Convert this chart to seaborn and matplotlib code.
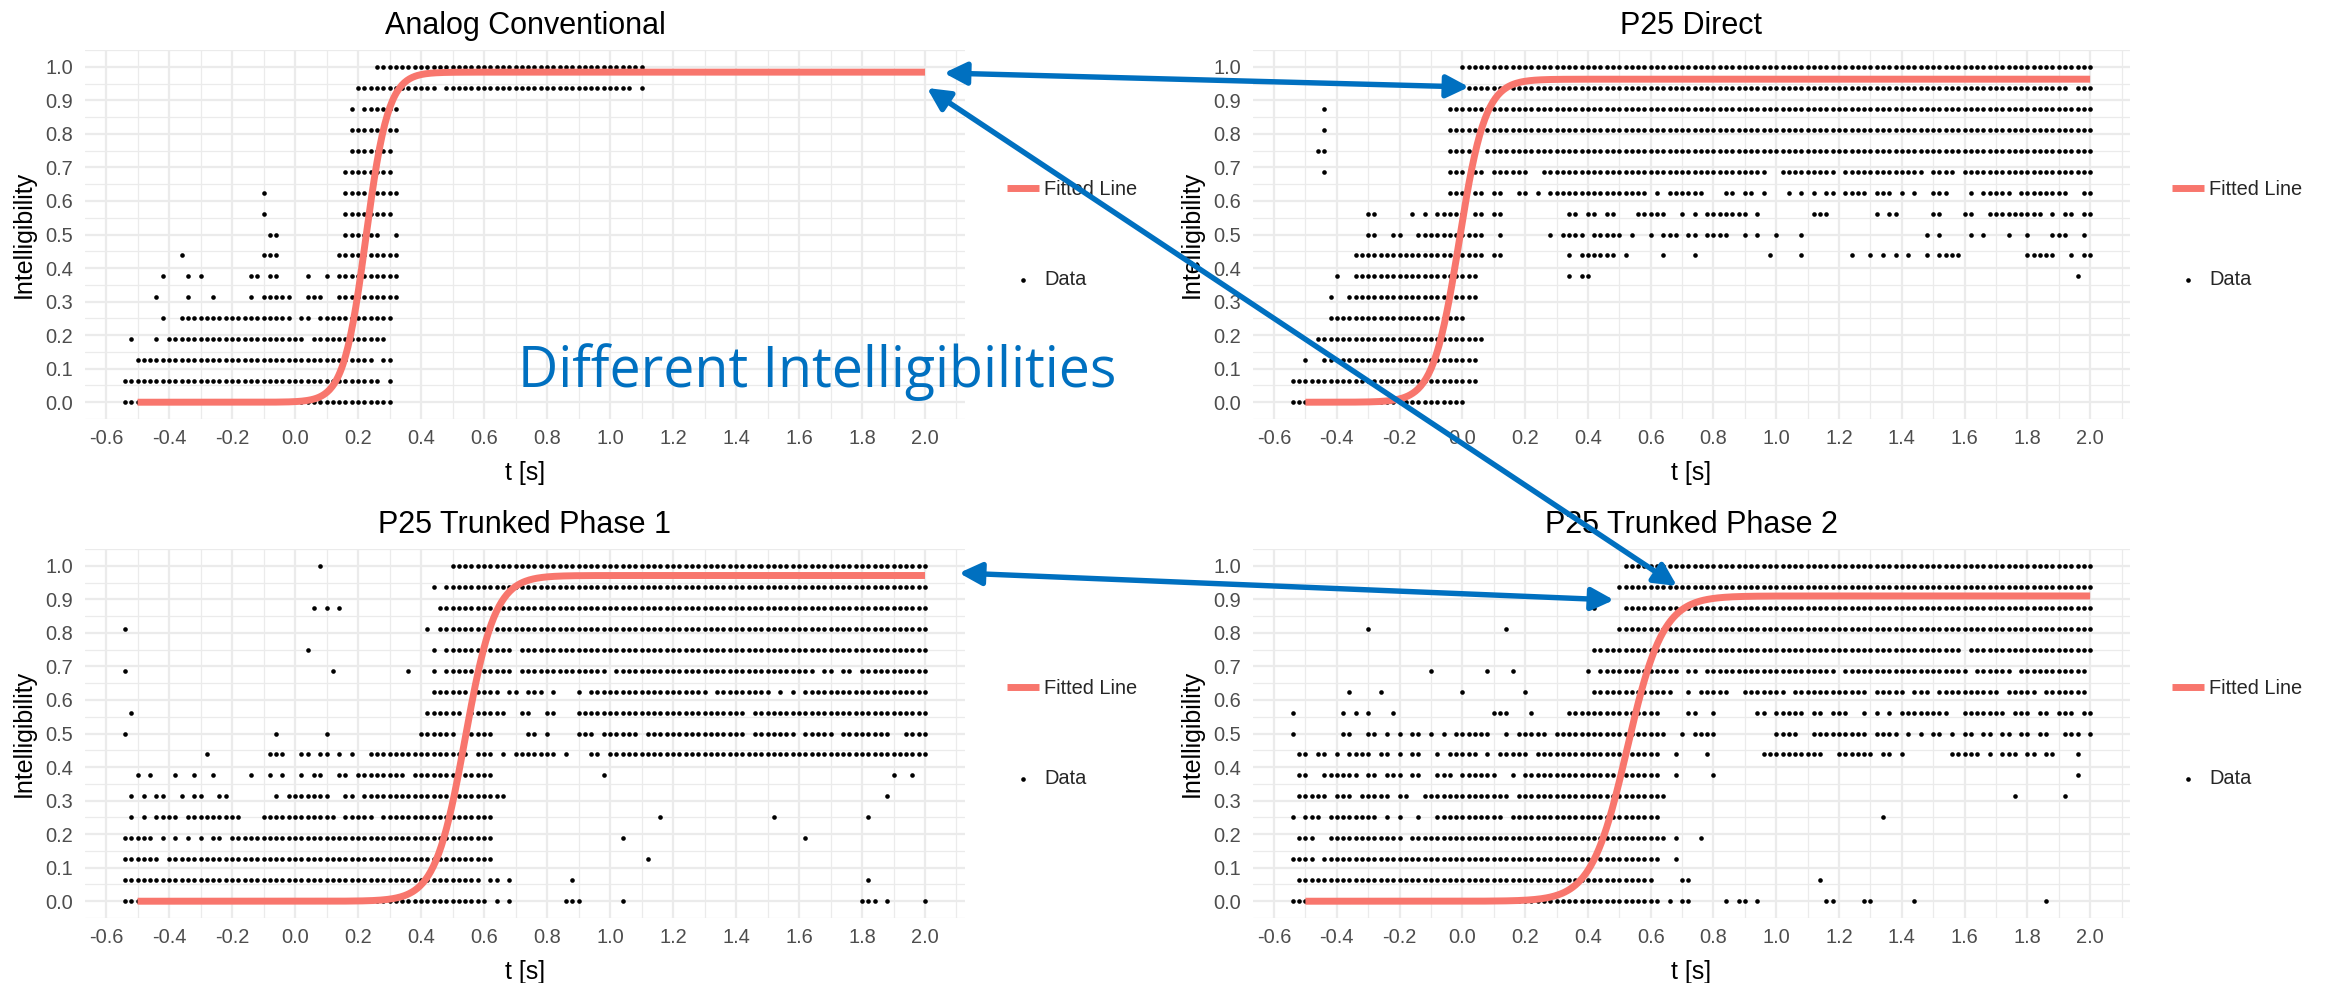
import numpy as np
import pandas as pd
import matplotlib
matplotlib.use("Agg")
import matplotlib.pyplot as plt
from matplotlib.patches import FancyArrowPatch
import seaborn as sns

# ---------------------------------------------------------------------------
# Data
# ---------------------------------------------------------------------------
# Listening-test scores are k/16 (16 words per trial)
INTELLIGIBILITY_LEVELS = [0.0, 0.0625, 0.125, 0.1875, 0.25, 0.3125, 0.375, 0.4375,
                          0.5, 0.5625, 0.625, 0.6875, 0.75, 0.8125, 0.875, 0.9375, 1.0]
T_STEP = 0.02  # time offsets are sampled every 20 ms

# Observed time offsets per intelligibility level (index 0 -> 0/16 ... 16 -> 16/16).
# "a:b" = every sample from a to b inclusive, "a" = single sample.
ANALOG_RUNS = [
    "-0.54:0.30",
    "-0.54:0.26 0.30",
    "-0.50:0.24 0.28:0.30",
    "-0.52 -0.44 -0.40:0.02 0.06:0.28",
    "-0.42 -0.36:-0.02 0.02:0.04 0.08:0.30",
    "-0.44 -0.34 -0.26 -0.14 -0.10:-0.02 0.04:0.08 0.14:0.32",
    "-0.42 -0.34 -0.30 -0.14:-0.12 -0.08:-0.06 0.04 0.10 0.14:0.32",
    "-0.36 -0.10:-0.06 0.14:0.32",
    "-0.08:-0.06 0.16:0.26 0.32",
    "-0.10 0.16:0.30",
    "-0.10 0.16:0.32",
    "0.16:0.30",
    "0.18:0.30",
    "0.18:0.32",
    "0.18 0.22:0.32",
    "0.20:0.44 0.48:1.06 1.10",
    "0.26:1.10",
]

DIRECT_RUNS = [
    "-0.54:0.00",
    "-0.54:0.04",
    "-0.50 -0.44 -0.42:0.04",
    "-0.46:0.06",
    "-0.42:0.00",
    "-0.42 -0.36:-0.06 -0.02:0.04",
    "-0.40 -0.34:0.04 0.34 0.38:0.40 1.96",
    "-0.34:0.06 0.10:0.12 0.34 0.38:0.48 0.52 0.64 0.74 0.98 1.08 1.24 1.30 1.34 1.38 "
    "1.42 1.48 1.52:1.58 1.80:1.88 1.94 1.98:2.00",
    "-0.30:-0.28 -0.22 -0.20 -0.14:-0.10 -0.08:0.06 0.12 0.28 0.32:0.38 0.42:0.50 0.54 "
    "0.60 0.64:0.68 0.72:0.74 0.78:0.84 0.90 0.94 1.00 1.08 1.48 1.52 1.62 1.66 1.74 1.80 "
    "1.88:1.92 1.98",
    "-0.30:-0.28 -0.16 -0.12 -0.08:0.00 0.04:0.06 0.10:0.12 0.34 0.36 0.40:0.42 0.46:0.48 "
    "0.56:0.64 0.70 0.74 0.78:0.90 0.94 1.12:1.16 1.32 1.36:1.38 1.50:1.52 1.60:1.62 "
    "1.68:1.84 1.88 1.92:1.94 1.98:2.00",
    "-0.04:0.00 0.04:0.06 0.10:0.12 0.18:0.20 0.24 0.28 0.30:0.58 0.62 0.66:0.76 0.84:0.86 "
    "0.90:0.92 0.96 1.04 1.08 1.12 1.16:1.18 1.22:1.28 1.32:1.36 1.40 1.44 1.50:1.54 1.62 "
    "1.66:1.74 1.78:1.92 1.98:2.00",
    "-0.44 -0.04:0.00 0.04:0.06 0.10:0.20 0.26:0.96 1.02:1.18 1.22:1.46 1.50:1.56 1.60:2.00",
    "-0.46:-0.44 -0.04:0.02 0.08:0.20 0.22:2.00",
    "-0.44 -0.04:2.00",
    "-0.44 -0.04:2.00",
    "0.02:1.92 1.96:2.00",
    "0.00:2.00",
]

PHASE1_RUNS = [
    "-0.54:0.60 0.64 0.68 0.86:0.90 1.04 1.80:1.84 1.88 2.00",
    "-0.54:0.58 0.62:0.64 0.68 0.88 1.82",
    "-0.54:-0.44 -0.40:0.62 1.12",
    "-0.54:-0.46 -0.42 -0.38 -0.34 -0.30 -0.26:-0.24 -0.20:0.62 1.04 1.62",
    "-0.52 -0.48 -0.44:-0.38 -0.34:-0.18 -0.10:0.12 0.16:0.24 0.28:0.62 1.16 1.52 1.82",
    "-0.52 -0.48 -0.44:-0.42 -0.36 -0.32:-0.30 -0.24:-0.22 -0.06 -0.02:0.10 0.16:0.18 "
    "0.22:0.66 1.88",
    "-0.50 -0.46 -0.38 -0.32 -0.26 -0.14 -0.08 -0.04 0.02 0.06:0.08 0.14:0.16 0.20:0.34 "
    "0.38:0.50 0.54:0.62 0.98 1.90 1.96",
    "-0.28 -0.08:-0.04 0.02:0.04 0.08:0.10 0.14 0.18 0.24:0.54 0.58:0.62 0.66 0.70:0.82 "
    "0.86 0.94:0.96 1.00:2.00",
    "-0.54 -0.06 0.10 0.40:0.50 0.54:0.62 0.74:0.76 0.80 0.90:0.94 0.98:1.08 1.12:1.42 "
    "1.46:1.58 1.62:1.70 1.74:1.88 1.94:2.00",
    "-0.52 0.42:0.52 0.56:0.66 0.72:0.74 0.80:0.82 0.90:1.42 1.46:2.00",
    "0.44:0.54 0.58:0.64 0.68:0.70 0.74:0.78 0.82 0.90 0.94:1.30 1.34:1.50 1.54 1.58 1.62:2.00",
    "-0.54 0.12 0.36 0.44 0.48:0.68 0.72:0.98 1.02:1.64 1.68:1.70 1.74:1.76 1.80:2.00",
    "0.04 0.44 0.48:0.68 0.72:2.00",
    "-0.54 0.42 0.46:2.00",
    "0.06 0.10 0.14 0.46:2.00",
    "0.44 0.48:2.00",
    "0.08 0.50:2.00",
]

PHASE2_RUNS = [
    "-0.54:0.62 0.66 0.70:0.72 0.84 0.88:0.90 0.94 1.16:1.18 1.28:1.30 1.44 1.86",
    "-0.52:0.60 0.70:0.72 1.14",
    "-0.54:-0.48 -0.44:0.62 0.68",
    "-0.52:-0.48 -0.42:-0.20 -0.16:0.64 0.68 0.76",
    "-0.54 -0.50:-0.46 -0.42:-0.28 -0.24 -0.20 -0.14 -0.08:0.12 0.16:0.62 1.34",
    "-0.52:-0.44 -0.40:-0.36 -0.32:-0.24 -0.20:-0.18 -0.12:0.14 0.18:0.64 1.76 1.92",
    "-0.52:-0.50 -0.44:-0.34 -0.30:-0.28 -0.24:-0.20 -0.16:-0.14 -0.08:-0.04 0.00:0.10 "
    "0.16 0.20:0.48 0.52:0.62 0.68 0.80 1.96",
    "-0.52:-0.50 -0.46:-0.44 -0.40 -0.36:-0.30 -0.26:-0.24 -0.20 -0.16:-0.14 -0.08 "
    "-0.04:0.04 0.08 0.12:0.20 0.24:0.62 0.68 0.78 0.96:1.14 1.20:1.30 1.34:1.36 1.40 "
    "1.56:1.64 1.68 1.72:1.76 1.80:1.82 1.86:1.88 1.96",
    "-0.54 -0.38:-0.36 -0.30:-0.28 -0.24 -0.20 -0.16:-0.14 -0.10 -0.06 -0.02:0.08 0.14 "
    "0.18:0.26 0.30:0.64 0.70 0.74:0.80 1.00:1.06 1.12:1.28 1.32:1.38 1.42 1.46 1.50:1.52 "
    "1.56 1.60:1.62 1.66:1.68 1.72:1.74 1.78:1.80 1.84:1.86 1.92:1.96 2.00",
    "-0.54 -0.38 -0.34 -0.30 -0.22 0.10:0.14 0.22 0.34:0.62 0.72:0.74 0.80 0.94:0.96 "
    "1.00:1.08 1.12:1.14 1.18:1.22 1.28 1.32 1.36 1.40:1.54 1.60:1.72 1.76:1.80 1.84:1.86 "
    "1.90:1.94 1.98:2.00",
    "-0.36 -0.26 0.00 0.20 0.42:0.66 0.72 0.76:0.84 0.90:1.02 1.06:1.28 1.32:1.40 "
    "1.44:1.48 1.52:1.70 1.74:1.82 1.86:1.98",
    "-0.10 0.08 0.16 0.40 0.44:0.68 0.72:0.74 0.78:1.18 1.22:1.60 1.64:1.74 1.78:1.98",
    "0.42:1.58 1.62:2.00",
    "-0.30 0.14 0.50:2.00",
    "0.42 0.52:2.00",
    "0.50:2.00",
    "0.52:2.00",
]

PANEL_TITLES = ["Analog Conventional", "P25 Direct",
                "P25 Trunked Phase 1", "P25 Trunked Phase 2"]
PANEL_RUNS = [ANALOG_RUNS, DIRECT_RUNS, PHASE1_RUNS, PHASE2_RUNS]

# Logistic fit per technology: upper asymptote, midpoint [s], growth rate [1/s]
FIT_UPPER = [0.984, 0.963, 0.971, 0.910]
FIT_MIDPOINT = [0.225, -0.010, 0.540, 0.525]
FIT_RATE = [28.0, 24.0, 21.0, 17.5]
FIT_T_RANGE = (-0.5, 2.0)

X_TICKS = [-0.6, -0.4, -0.2, 0.0, 0.2, 0.4, 0.6, 0.8, 1.0, 1.2, 1.4, 1.6, 1.8, 2.0]
Y_TICKS = [0.0, 0.1, 0.2, 0.3, 0.4, 0.5, 0.6, 0.7, 0.8, 0.9, 1.0]

ANNOTATION = "Different Intelligibilities"


def expand_runs(runs):
    """Turn the per-level run strings into a long table of (t, intelligibility)."""
    t_vals, y_vals = [], []
    for level, spec in zip(INTELLIGIBILITY_LEVELS, runs):
        for tok in spec.split():
            if ":" in tok:
                a, b = (float(v) for v in tok.split(":"))
            else:
                a = b = float(tok)
            n = int(round((b - a) / T_STEP)) + 1
            for i in range(n):
                t_vals.append(round(a + i * T_STEP, 2))
                y_vals.append(level)
    return pd.DataFrame({"t": t_vals, "Intelligibility": y_vals})


def fitted_curve(upper, mid, rate):
    t = np.linspace(FIT_T_RANGE[0], FIT_T_RANGE[1], 600)
    return pd.DataFrame({"t": t, "fit": upper / (1.0 + np.exp(-rate * (t - mid)))})


# ---------------------------------------------------------------------------
# Figure
# ---------------------------------------------------------------------------
sns.set_style("white")
plt.rcParams["font.family"] = ["Liberation Sans", "DejaVu Sans"]
plt.rcParams["axes.unicode_minus"] = False

W, H = 2326, 983
fig = plt.figure(figsize=(W / 100, H / 100), dpi=100)
fig.patch.set_facecolor("white")

FIT_COLOR = "#F8766D"
GRID_COLOR = "#EBEBEB"
TICK_COLOR = "#4D4D4D"
NOTE_COLOR = "#0070C0"

TICK_FS = 14.4
AXIS_FS = 18
TITLE_FS = 22

# panel rectangles in pixels: (left, top, right, bottom)
PANEL_BOXES = [(85, 50, 965, 419), (1253, 50, 2130, 419),
               (85, 549, 965, 918), (1253, 549, 2130, 918)]

axes = []
for idx, (title, runs) in enumerate(zip(PANEL_TITLES, PANEL_RUNS)):
    l, t, r, b = PANEL_BOXES[idx]
    ax = fig.add_axes([l / W, 1 - b / H, (r - l) / W, (b - t) / H])
    axes.append(ax)
    ax.set_facecolor("white")
    for sp in ax.spines.values():
        sp.set_visible(False)

    pts = expand_runs(runs)
    fit = fitted_curve(FIT_UPPER[idx], FIT_MIDPOINT[idx], FIT_RATE[idx])

    sns.scatterplot(data=pts, x="t", y="Intelligibility", ax=ax, color="black",
                    s=11, linewidth=0, label="Data", zorder=2)
    sns.lineplot(data=fit, x="t", y="fit", ax=ax, color=FIT_COLOR, linewidth=5.0,
                 estimator=None, label="Fitted Line", zorder=3,
                 solid_capstyle="butt")

    ax.set_xlim(-0.667, 2.127)
    ax.set_ylim(-0.05, 1.05)

    ax.set_xticks(X_TICKS)
    ax.set_xticklabels([f"{v:.1f}" for v in X_TICKS])
    ax.set_xticks([round(v + 0.1, 1) for v in X_TICKS], minor=True)
    ax.set_yticks(Y_TICKS)
    ax.set_yticklabels([f"{v:.1f}" for v in Y_TICKS])
    ax.set_yticks([round(v - 0.05, 2) for v in Y_TICKS] + [1.05], minor=True)
    ax.grid(which="major", color=GRID_COLOR, linewidth=1.6)
    ax.grid(which="minor", color=GRID_COLOR, linewidth=0.9)
    ax.set_axisbelow(True)
    ax.tick_params(which="both", length=0, labelsize=TICK_FS, labelcolor=TICK_COLOR)
    ax.tick_params(axis="y", pad=8.6)
    ax.tick_params(axis="x", pad=7.5)

    ax.set_xlabel("t [s]", fontsize=AXIS_FS, color="black")
    ax.set_ylabel("Intelligibility", fontsize=AXIS_FS, color="black")
    ax.xaxis.set_label_coords(0.5, -0.146)
    ax.xaxis.label.set_verticalalignment("center")
    ax.yaxis.set_label_coords(-0.0695, 0.5)
    ax.yaxis.label.set_verticalalignment("center")

    ax.text(0.5, 1.066, title, transform=ax.transAxes, ha="center", va="center",
            fontsize=TITLE_FS, color="black")

    handles, labels = ax.get_legend_handles_labels()
    order = [labels.index("Fitted Line"), labels.index("Data")]
    ax.legend([handles[i] for i in order], [labels[i] for i in order],
              loc="center left", bbox_to_anchor=(1 + 42 / (r - l), 0.5),
              frameon=False, fontsize=TICK_FS, handlelength=1.6,
              handletextpad=0.25, labelspacing=3.55, borderpad=0,
              borderaxespad=0)

# ---------------------------------------------------------------------------
# Annotation and connecting arrows
# ---------------------------------------------------------------------------
note = fig.text(518 / W, 1 - 387 / H, ANNOTATION, color=NOTE_COLOR,
                fontsize=40, family=["Open Sans", "DejaVu Sans"],
                ha="left", va="baseline", zorder=10)
fig.canvas.draw()
w_px = note.get_window_extent().width
note.set_fontsize(40 * 598 / w_px)

ARROWS = [((944, 73), (1469, 87)),
          ((927, 88), (1677, 586)),
          ((959, 573), (1614, 600))]
for (x0, y0), (x1, y1) in ARROWS:
    arr = FancyArrowPatch((x0 / W, 1 - y0 / H), (x1 / W, 1 - y1 / H),
                          transform=fig.transFigure,
                          arrowstyle="<|-|>,head_length=13.5,head_width=6.8",
                          color=NOTE_COLOR, linewidth=3.9, shrinkA=0, shrinkB=0,
                          mutation_scale=1, zorder=11)
    fig.add_artist(arr)

fig.savefig("out.png", dpi=100, facecolor="white")
